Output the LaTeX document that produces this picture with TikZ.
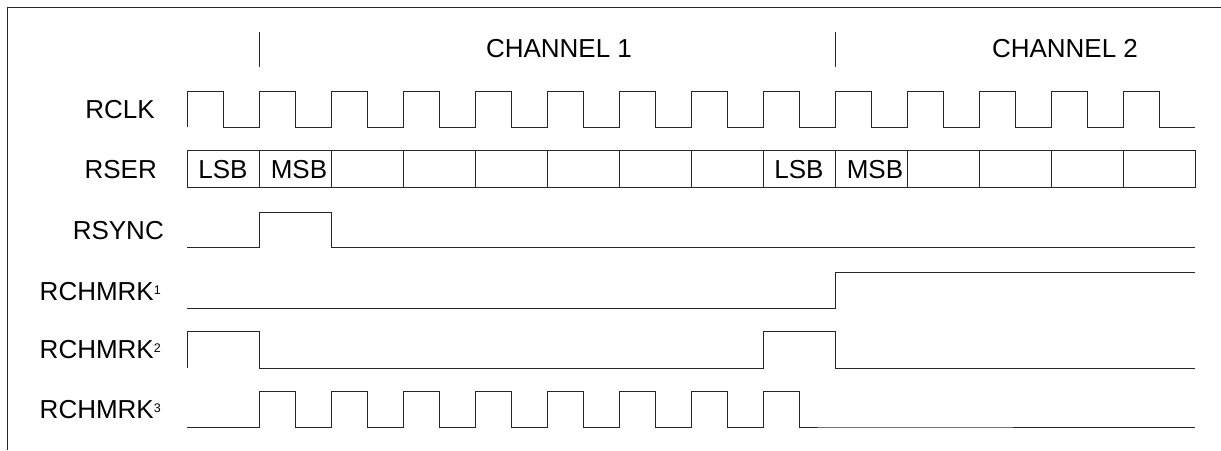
\documentclass[tikz,border=0pt]{standalone}
\usepackage{fontspec}
\setmainfont{Liberation Sans}
\newcommand{\mrk}[1]{\raisebox{6pt}{\fontsize{12.5}{13}\selectfont #1}}
\tikzset{
  wave/.style={line width=1pt, black!85},
  sig/.style={anchor=base east, inner sep=0pt},
  bit/.style={anchor=base, inner sep=0pt}
}
\begin{document}
\begin{tikzpicture}[x=1pt, y=-1pt, every node/.style={font=\fontsize{26}{30}\selectfont}]
  \useasboundingbox (0,0) rectangle (1221,450);
  \draw[wave] (7,450) -- (7,7) -- (1221,7);
  % channel borders
  \draw[wave] (259,32) -- (259,67);
  \draw[wave] (835,32) -- (835,67);
  \node[bit] (ch1) at (559,57) {CHANNEL 1};
  \node[bit] (ch2) at (1065,57) {CHANNEL 2};
  % signal names
  \node[sig] (rclk) at (155,118) {RCLK};
  \node[sig] (rser) at (157,178) {RSER};
  \node[sig] (rsync) at (164,239) {RSYNC};
  \node[sig] (mrk1) at (161,300) {RCHMRK\mrk{1}};
  \node[sig] (mrk2) at (161,358) {RCHMRK\mrk{2}};
  \node[sig] (mrk3) at (161,418) {RCHMRK\mrk{3}};
  % RCLK
  \draw[wave] (187,127) foreach \i in {0,...,13} {-- ++(0,-36) -- ++(36,0) -- ++(0,36) -- ++(36,0)};
  % RSER
  \draw[wave] (187,150) rectangle (1195,187);
  \foreach \x in {259,331,...,1123}
    \draw[wave] (\x,150) -- (\x,187);
  \node[bit] (lsb1) at (223,178) {LSB};
  \node[bit] (msb1) at (299,178) {MSB};
  \node[bit] (lsb2) at (799,178) {LSB};
  \node[bit] (msb2) at (875,178) {MSB};
  % RSYNC
  \draw[wave] (187,247) -- (259,247) -- (259,212) -- (331,212) -- (331,247) -- (1195,247);
  % RCHMRK 1
  \draw[wave] (187,308) -- (835,308) -- (835,272) -- (1195,272);
  % RCHMRK 2
  \draw[wave] (187,368) -- (187,331) -- (259,331) -- (259,368) -- (763,368)
    -- (763,331) -- (835,331) -- (835,368) -- (1195,368);
  % RCHMRK 3
  \draw[wave] (187,427) -- (259,427) foreach \i in {0,...,7} {-- ++(0,-36) -- ++(36,0) -- ++(0,36) -- ++(36,0)} -- (1195,427);
\end{tikzpicture}
\end{document}
